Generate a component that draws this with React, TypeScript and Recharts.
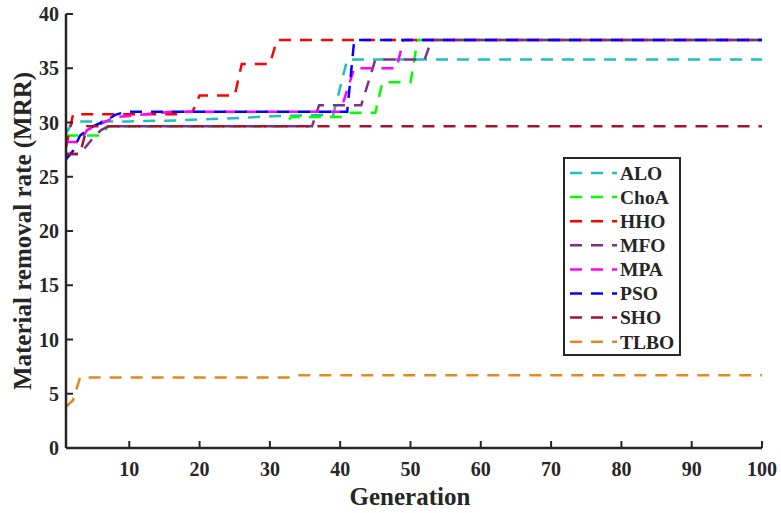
import React from "react";
import { LineChart, Line, XAxis, YAxis, Legend, Label } from "recharts";

const xTicks = [10, 20, 30, 40, 50, 60, 70, 80, 90, 100];
const yTicks = [0, 5, 10, 15, 20, 25, 30, 35, 40];

// [generation, MRR] breakpoints
const ALO = [[1, 29.0], [2, 30.1], [10, 30.1], [17, 30.2], [25, 30.4], [31, 30.6], [39, 30.7], [41, 35.8], [100, 35.8]];
const ChoA = [[1, 28.8], [6, 28.8], [7, 29.65], [32, 29.65], [33, 30.5], [40, 30.5], [41, 30.9], [45, 30.9], [46, 33.7], [50, 33.7], [51, 37.6], [100, 37.6]];
const HHO = [[1, 27.7], [2, 30.75], [17, 30.75], [18, 31.0], [19, 31.0], [20, 32.5], [25, 32.5], [26, 35.4], [30, 35.4], [31, 37.6], [100, 37.6]];
const MFO = [[1, 27.1], [3, 27.1], [4, 27.9], [5, 28.7], [6, 29.3], [7, 29.65], [36, 29.65], [37, 31.6], [43, 31.6], [45, 35.8], [52, 35.8], [53, 37.6], [100, 37.6]];
const MPA = [[1, 28.2], [3, 28.2], [4, 29.3], [5, 29.6], [6, 29.9], [7, 30.2], [8, 30.5], [10, 30.6], [13, 30.8], [16, 31.0], [40, 31.0], [42, 35.0], [48, 35.0], [49, 37.6], [100, 37.6]];
const PSO = [[1, 26.6], [2, 27.4], [3, 28.8], [4, 29.3], [5, 29.7], [6, 30.0], [7, 30.3], [8, 30.7], [9, 30.9], [10, 31.0], [41, 31.0], [42, 37.6], [100, 37.6]];
const SHO = [[1, 27.1], [3, 27.1], [4, 29.65], [100, 29.65]];
const TLBO = [[1, 3.8], [2, 4.4], [3, 6.5], [33, 6.5], [34, 6.7], [100, 6.7]];

const seriesNames = ["ALO", "ChoA", "HHO", "MFO", "MPA", "PSO", "SHO", "TLBO"];
const seriesData = [ALO, ChoA, HHO, MFO, MPA, PSO, SHO, TLBO];
const seriesColors = ["#20BFBF", "#00FF00", "#FF0000", "#7E2F8E", "#FF00FF", "#0000FF", "#A2142F", "#E3891F"];

const FONT = "'Liberation Serif', 'Times New Roman', serif";
const INK = "#262626";
const DASH = "12 9";

const tickStyle = { fill: INK, fontFamily: FONT, fontWeight: 700, fontSize: 20 };

function LegendBox() {
  return (
    <svg width={118} height={199} style={{ display: "block" }}>
      <rect x={1} y={1} width={116} height={197} fill="#fff" stroke={INK} strokeWidth={2} />
      {seriesNames.map((n, i) => {
        const y = 16 + i * 24.1;
        return (
          <g key={n}>
            <line x1={7} x2={54} y1={y} y2={y} stroke={seriesColors[i]} strokeWidth={2.5} strokeDasharray={DASH} />
            <text x={57} y={y} dy="0.35em" fill={INK} fontFamily={FONT} fontWeight={700} fontSize={19.5}>
              {n}
            </text>
          </g>
        );
      })}
    </svg>
  );
}

export default function App() {
  return (
    <div style={{ position: "absolute", left: 0, top: 0, background: "#fff" }}>
      <LineChart width={781} height={513} margin={{ top: 14, right: 19, bottom: 0, left: 0 }}>
        <XAxis
          xAxisId="b"
          type="number"
          dataKey="gen"
          domain={[1, 100]}
          ticks={xTicks}
          allowDataOverflow
          height={65}
          tickSize={-7}
          tickMargin={21}
          tick={tickStyle}
          axisLine={{ stroke: INK, strokeWidth: 2.5 }}
          tickLine={{ stroke: INK, strokeWidth: 2 }}
        >
          <Label value="Generation" position="insideBottom" offset={8} dx={-4} style={{ fill: INK, fontFamily: FONT, fontWeight: 700, fontSize: 25 }} />
        </XAxis>
        <XAxis
          xAxisId="t"
          orientation="top"
          type="number"
          dataKey="gen"
          domain={[1, 100]}
          ticks={xTicks}
          allowDataOverflow
          height={0}
          tickSize={-7}
          tick={false}
          axisLine={{ stroke: INK, strokeWidth: 2.5 }}
          tickLine={{ stroke: INK, strokeWidth: 2 }}
        />
        <YAxis
          yAxisId="l"
          type="number"
          domain={[0, 40]}
          ticks={yTicks}
          allowDataOverflow
          width={66}
          tickSize={-7}
          tickMargin={14}
          tick={tickStyle}
          axisLine={{ stroke: INK, strokeWidth: 2.5 }}
          tickLine={{ stroke: INK, strokeWidth: 2 }}
        >
          <Label value="Material removal rate (MRR)" angle={-90} position="center" dx={-11} style={{ fill: INK, fontFamily: FONT, fontWeight: 700, fontSize: 25, textAnchor: "middle" }} />
        </YAxis>
        <YAxis
          yAxisId="r"
          orientation="right"
          type="number"
          domain={[0, 40]}
          ticks={yTicks}
          allowDataOverflow
          width={0}
          tickSize={-7}
          tick={false}
          axisLine={{ stroke: INK, strokeWidth: 2.5 }}
          tickLine={{ stroke: INK, strokeWidth: 2 }}
        />
        {seriesNames.map((n, i) => (
          <Line
            key={n}
            name={n}
            xAxisId="b"
            yAxisId="l"
            data={seriesData[i].map(([g, v]) => ({ gen: g, v }))}
            dataKey="v"
            type="linear"
            stroke={seriesColors[i]}
            strokeWidth={2.5}
            strokeDasharray={DASH}
            dot={false}
            activeDot={false}
            isAnimationActive={false}
          />
        ))}
        <Legend
          layout="vertical"
          align="center"
          verticalAlign="middle"
          content={() => <LegendBox />}
          wrapperStyle={{ left: 563, top: 157, width: 118, height: 199 }}
        />
      </LineChart>
    </div>
  );
}
